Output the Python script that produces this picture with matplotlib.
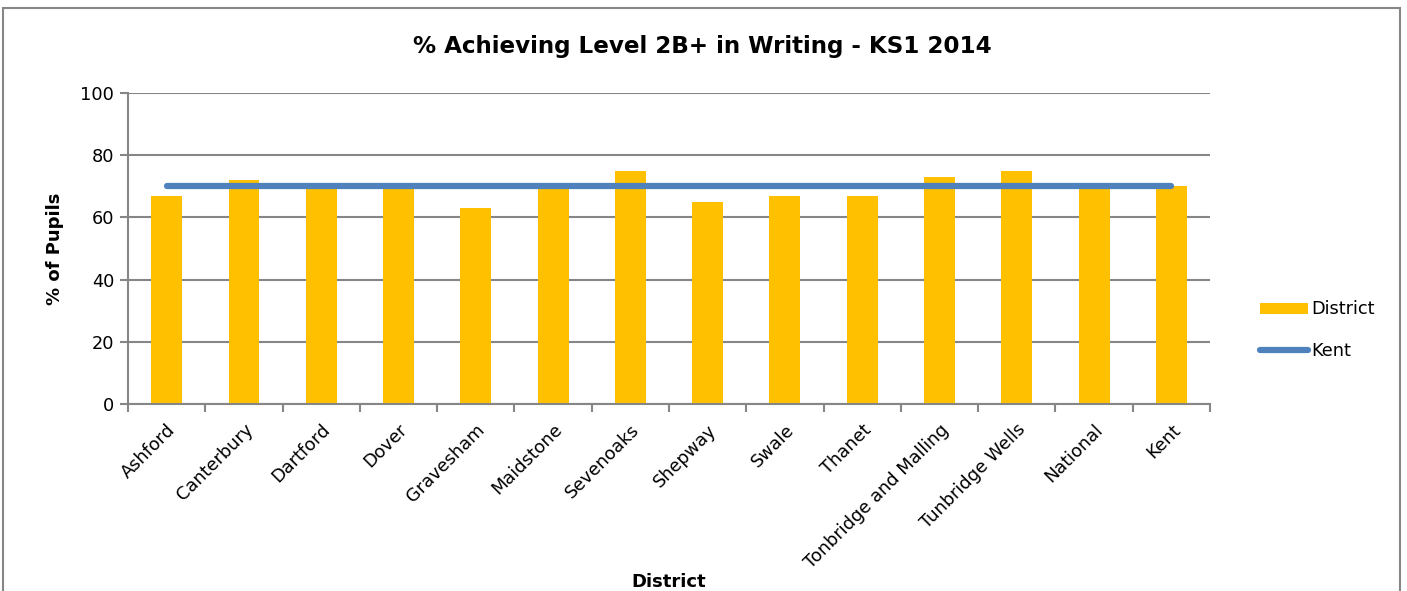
import matplotlib
matplotlib.use("Agg")
import matplotlib.pyplot as plt
import numpy as np
from matplotlib.patches import Rectangle

districts = ["Ashford", "Canterbury", "Dartford", "Dover", "Gravesham", "Maidstone",
             "Sevenoaks", "Shepway", "Swale", "Thanet", "Tonbridge and Malling",
             "Tunbridge Wells", "National", "Kent"]
district_pct = [67, 72, 70, 70, 63, 70, 75, 65, 67, 67, 73, 75, 70, 70]
kent_pct = [70] * len(districts)

GRID = "#868686"
plt.rcParams["font.family"] = ["DejaVu Sans"]

fig = plt.figure(figsize=(14.07, 5.91), dpi=100)
ax = fig.add_axes([0.091, 0.3164, 0.769, 0.5262])

x = np.arange(len(districts))
bars = ax.bar(x, district_pct, width=0.4, color="#FFC000", label="District", zorder=2)
line, = ax.plot(x, kent_pct, color="#4F81BD", lw=4.5, solid_capstyle="round",
                label="Kent", zorder=3)

ax.set_xlim(-0.5, len(districts) - 0.5)
ax.set_ylim(0, 100)
ax.set_yticks(range(0, 101, 20))
ax.yaxis.grid(True, color=GRID, lw=1.5, zorder=0)
ax.set_axisbelow(True)

ax.set_xticks(x)
ax.set_xticklabels(districts, rotation=45, ha="right", rotation_mode="anchor",
                   fontsize=12.8)
ax.tick_params(axis="x", which="major", length=0, pad=12)
ax.set_xticks(np.arange(-0.5, len(districts), 1.0), minor=True)
ax.tick_params(axis="x", which="minor", length=6, width=1.5, color=GRID)
ax.tick_params(axis="y", length=6, width=1.5, color=GRID, labelsize=12.8, pad=4)

for s in ("top", "right"):
    ax.spines[s].set_visible(False)
for s in ("left", "bottom"):
    ax.spines[s].set_color(GRID)
    ax.spines[s].set_linewidth(1.5)

ax.set_ylabel("% of Pupils", fontsize=13, fontweight="bold", labelpad=12)
fig.text(0.475, 0.015, "District", ha="center", va="center",
         fontsize=13, fontweight="bold")
fig.text(0.499, 0.922, "% Achieving Level 2B+ in Writing - KS1 2014", ha="center",
         va="center", fontsize=16.6, fontweight="bold")

ax.legend([bars, line], ["District", "Kent"], loc="center left",
          bbox_to_anchor=(1.031, 0.238), frameon=False, fontsize=12.8,
          handlelength=2.75, handleheight=0.6, handletextpad=0.15, labelspacing=1.3)

fig.patches.append(Rectangle((0.002, -0.05), 0.993, 1.036, transform=fig.transFigure,
                             fill=False, edgecolor=GRID, lw=1.5))

fig.savefig("out.png", dpi=100)
